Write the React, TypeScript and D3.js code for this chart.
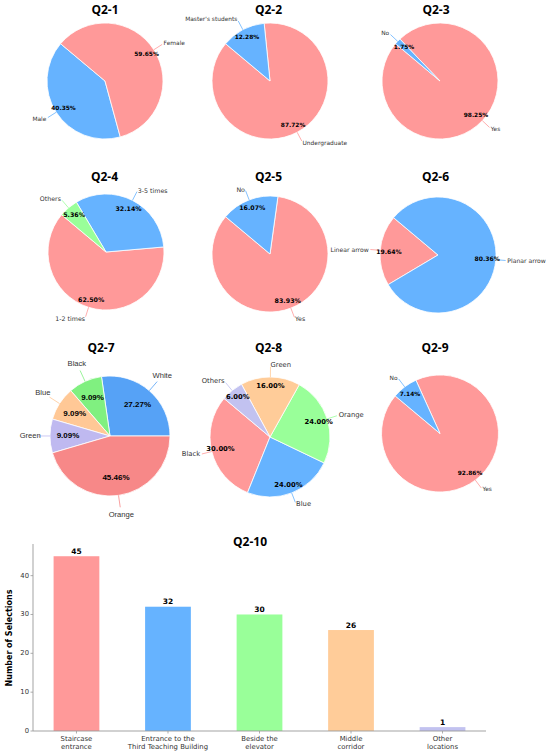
import { arc, pie, scaleLinear } from "d3";

// survey answers, in percent
const q21Labels = ["Male", "Female"];
const q21Values = [40.35, 59.65];
const q22Labels = ["Undergraduate", "Master's students"];
const q22Values = [87.72, 12.28];
const q23Labels = ["Yes", "No"];
const q23Values = [98.25, 1.75];
const q24Labels = ["1-2 times", "3-5 times", "Others"];
const q24Values = [62.5, 32.14, 5.36];
const q25Labels = ["Yes", "No"];
const q25Values = [83.93, 16.07];
const q26Labels = ["Linear arrow", "Planar arrow"];
const q26Values = [19.64, 80.36];
const q27Labels = ["White", "Black", "Blue", "Green", "Orange"];
const q27Values = [27.27, 9.09, 9.09, 9.09, 45.46];
const q28Labels = ["Black", "Blue", "Orange", "Green", "Others"];
const q28Values = [30.0, 24.0, 24.0, 16.0, 6.0];
const q29Labels = ["Yes", "No"];
const q29Values = [92.86, 7.14];

// Q2-10 bar chart
const q210Categories = [
  "Staircase\nentrance",
  "Entrance to the\nThird Teaching Building",
  "Beside the\nelevator",
  "Middle\ncorridor",
  "Other\nlocations",
];
const q210Values = [45, 32, 30, 26, 1];

const pink = "#ff9999";
const blue = "#66b3ff";
const green = "#99ff99";
const peach = "#ffcc99";
const lavender = "#c2c2f0";
const barColors = [pink, blue, green, peach, lavender];

type PieSpec = {
  title: string;
  labels: string[];
  values: number[];
  colors: string[];
  cx: number;
  cy: number;
  r: number;
  tx: number;
  ty: number;
  start: number; // degrees, counter-clockwise from 3 o'clock
  pctDist: number;
  labelDist: number;
  font: number;
  q27?: boolean;
};

const pies: PieSpec[] = [
  { title: "Q2-1", labels: q21Labels, values: q21Values, colors: [blue, pink], cx: 105, cy: 81, r: 58, tx: 105, ty: 9, start: 140, pctDist: 0.85, labelDist: 1.2, font: 5.9 },
  { title: "Q2-2", labels: q22Labels, values: q22Values, colors: [pink, blue], cx: 270, cy: 81, r: 58, tx: 268.5, ty: 9, start: 140, pctDist: 0.85, labelDist: 1.2, font: 5.9 },
  { title: "Q2-3", labels: q23Labels, values: q23Values, colors: [pink, blue], cx: 440, cy: 81, r: 58, tx: 436, ty: 9, start: 140, pctDist: 0.85, labelDist: 1.2, font: 5.9 },
  { title: "Q2-4", labels: q24Labels, values: q24Values, colors: [pink, blue, green], cx: 106, cy: 252, r: 58, tx: 104.5, ty: 176.5, start: 140, pctDist: 0.85, labelDist: 1.2, font: 6.3 },
  { title: "Q2-5", labels: q25Labels, values: q25Values, colors: [pink, blue], cx: 270, cy: 254, r: 58, tx: 268.5, ty: 176.5, start: 140, pctDist: 0.85, labelDist: 1.2, font: 6.3 },
  { title: "Q2-6", labels: q26Labels, values: q26Values, colors: [pink, blue], cx: 438, cy: 255, r: 58, tx: 435.5, ty: 176.5, start: 140, pctDist: 0.85, labelDist: 1.2, font: 6.1 },
  { title: "Q2-7", labels: q27Labels, values: q27Values, colors: ["#56a2f6", "#80f080", "#ffc896", "#bfb9f0", "#f78888"], cx: 110, cy: 436, r: 60, tx: 101, ty: 347.5, start: 0, pctDist: 0.7, labelDist: 1.33, font: 7.6, q27: true },
  { title: "Q2-8", labels: q28Labels, values: q28Values, colors: [pink, blue, green, peach, lavender], cx: 270, cy: 437, r: 60, tx: 268.5, ty: 347.5, start: 140, pctDist: 0.85, labelDist: 1.2, font: 6.8 },
  { title: "Q2-9", labels: q29Labels, values: q29Values, colors: [pink, blue], cx: 440, cy: 433.5, r: 58.5, tx: 435, ty: 347.5, start: 140, pctDist: 0.85, labelDist: 1.2, font: 5.9 },
];

const toRad = Math.PI / 180;

const PieChart = ({ spec }: { spec: PieSpec }) => {
  const a0 = Math.PI / 2 - spec.start * toRad;
  const slices = pie<number>()
    .sort(null)
    .startAngle(a0)
    .endAngle(a0 - 2 * Math.PI)(spec.values);
  const wedge = arc<any>().innerRadius(0).outerRadius(spec.r);
  const at = (a: number, k: number) => [
    spec.cx + spec.r * k * Math.sin(a),
    spec.cy - spec.r * k * Math.cos(a),
  ];
  const labelFamily = spec.q27 ? "Liberation Sans, Arial, sans-serif" : "DejaVu Sans, sans-serif";

  return (
    <g>
      <text
        x={spec.tx}
        y={spec.ty}
        textAnchor="middle"
        dominantBaseline="central"
        fontFamily="Open Sans, sans-serif"
        fontWeight={700}
        fontSize={12}
        fill="#000"
      >
        {spec.title}
      </text>
      <g transform={`translate(${spec.cx},${spec.cy})`}>
        {slices.map((s, i) => (
          <path key={i} d={wedge(s) as string} fill={spec.colors[i]} stroke="#fff" strokeWidth={0.8} />
        ))}
      </g>
      {slices.map((s, i) => {
        const mid = (s.startAngle + s.endAngle) / 2;
        const [x1, y1] = at(mid, 1.0);
        const [x2, y2] = at(mid, spec.q27 ? 1.2 : 1.17);
        const [lx, ly] = at(mid, spec.labelDist);
        const [px, py] = at(mid, spec.pctDist);
        const anchor = spec.q27 ? "middle" : Math.sin(mid) > 0 ? "start" : "end";
        return (
          <g key={i}>
            <line x1={x1} y1={y1} x2={x2} y2={y2} stroke={spec.colors[i]} strokeWidth={0.8} />
            <text
              x={lx}
              y={ly}
              textAnchor={anchor}
              dominantBaseline="central"
              fontFamily={labelFamily}
              fontSize={spec.font}
              fill="#333"
            >
              {spec.labels[i]}
            </text>
            <text
              x={px}
              y={py}
              textAnchor="middle"
              dominantBaseline="central"
              fontFamily={labelFamily}
              fontWeight={700}
              fontSize={spec.q27 ? 8 : spec.font}
              fill="#000"
            >
              {spec.values[i].toFixed(2)}%
            </text>
          </g>
        );
      })}
    </g>
  );
};

const BarChart = () => {
  const left = 33;
  const right = 486;
  const bottom = 731;
  const top = 544;
  const x = scaleLinear().domain([-0.475, 4.475]).range([left, right]);
  const y = scaleLinear().domain([0, 48.15]).range([bottom, top]);
  const bw = x(0.25) - x(-0.25);
  const axisColor = "#999";

  return (
    <g fontFamily="DejaVu Sans, sans-serif">
      <text x={250} y={541} textAnchor="middle" dominantBaseline="central" fontFamily="Open Sans, sans-serif" fontWeight={700} fontSize={12}>
        Q2-10
      </text>
      {q210Values.map((v, i) => (
        <g key={i}>
          <rect x={x(i) - bw / 2} y={y(v)} width={bw} height={y(0) - y(v)} fill={barColors[i]} />
          <text x={x(i)} y={y(v) - 2.5} textAnchor="middle" fontWeight={700} fontSize={7.5} fill="#000">
            {v}
          </text>
        </g>
      ))}
      <line x1={left} y1={top} x2={left} y2={bottom} stroke={axisColor} strokeWidth={0.9} />
      <line x1={left} y1={bottom} x2={right} y2={bottom} stroke={axisColor} strokeWidth={0.9} />
      {y.ticks(5).map((t) => (
        <g key={t}>
          <line x1={left - 2.5} y1={y(t)} x2={left} y2={y(t)} stroke={axisColor} strokeWidth={0.8} />
          <text x={left - 4} y={y(t)} textAnchor="end" dominantBaseline="central" fontSize={6.8} fill="#333">
            {t}
          </text>
        </g>
      ))}
      {q210Categories.map((c, i) => (
        <g key={i}>
          <line x1={x(i)} y1={bottom} x2={x(i)} y2={bottom + 2.5} stroke={axisColor} strokeWidth={0.8} />
          <text x={x(i)} y={bottom + 9.5} textAnchor="middle" fontSize={6.9} fill="#333">
            {c.split("\n").map((line, j) => (
              <tspan key={j} x={x(i)} dy={j === 0 ? 0 : 8}>
                {line}
              </tspan>
            ))}
          </text>
        </g>
      ))}
      <text
        transform={`translate(9,638) rotate(-90)`}
        textAnchor="middle"
        dominantBaseline="central"
        fontWeight={700}
        fontSize={8}
        fill="#000"
      >
        Number of Selections
      </text>
    </g>
  );
};

export default function App() {
  return (
    <svg
      width={550}
      height={754}
      viewBox="0 0 550 754"
      style={{ position: "absolute", left: 0, top: 0, background: "#fff" }}
    >
      {pies.map((p) => (
        <PieChart key={p.title} spec={p} />
      ))}
      <BarChart />
    </svg>
  );
}
